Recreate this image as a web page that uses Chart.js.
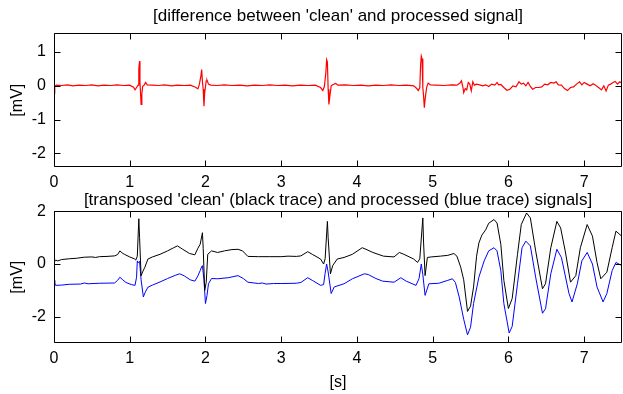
<!DOCTYPE html>
<html><head><meta charset="utf-8">
<script src="https://cdn.jsdelivr.net/npm/chart.js@4/dist/chart.umd.min.js"></script>
<style>
html,body{margin:0;padding:0;background:#fff;width:623px;height:394px;overflow:hidden}
canvas{position:absolute;left:0}
#c1{top:0}
#c2{top:190px}
</style></head><body>
<canvas id="c1" width="623" height="190"></canvas>
<canvas id="c2" width="623" height="204"></canvas>
<script>
// ---- tick labels ----
const xTicks = [0, 1, 2, 3, 4, 5, 6, 7];
const yTicksTop = [-2, -1, 0, 1];
const yTicksBottom = [-2, 0, 2];

// ---- difference signal (red) ----
const redT = [0.00,0.01,0.03,0.10,0.18,0.25,0.33,0.42,0.50,0.58,0.66,0.75,0.83,0.92,1.00,1.05,1.07,1.09,1.11,1.12,1.13,1.135,1.14,1.15,1.16,1.17,1.19,1.21,1.23,1.30,1.38,1.46,1.55,1.63,1.72,1.80,1.87,1.90,1.92,1.94,1.95,1.96,1.97,1.98,1.99,2.01,2.02,2.04,2.07,2.15,2.25,2.35,2.45,2.55,2.65,2.75,2.85,2.95,3.05,3.15,3.25,3.35,3.45,3.52,3.55,3.57,3.59,3.60,3.61,3.62,3.63,3.64,3.66,3.68,3.72,3.75,3.85,3.95,4.05,4.15,4.25,4.35,4.45,4.55,4.65,4.75,4.79,4.81,4.83,4.84,4.85,4.86,4.87,4.88,4.89,4.90,4.92,4.94,4.97,5.05,5.15,5.25,5.32,5.36,5.38,5.40,5.41,5.43,5.45,5.47,5.49,5.51,5.53,5.55,5.58,5.62,5.66,5.70,5.74,5.78,5.82,5.85,5.87,5.90,5.94,5.98,6.02,6.06,6.10,6.14,6.17,6.20,6.23,6.26,6.29,6.32,6.36,6.40,6.44,6.48,6.52,6.56,6.60,6.63,6.66,6.70,6.74,6.78,6.82,6.86,6.90,6.94,6.97,7.00,7.04,7.08,7.12,7.15,7.19,7.23,7.26,7.29,7.32,7.35,7.38,7.41,7.44,7.47,7.50];
const redV = [-0.22,-0.02,0.02,0.01,0.03,0.00,0.02,0.01,0.03,0.00,0.02,0.01,0.03,0.01,0.02,-0.04,-0.12,-0.05,0.02,0.50,0.73,0.10,-0.10,-0.55,-0.25,-0.02,0.02,0.10,0.03,0.02,0.01,0.03,0.00,0.02,0.01,0.02,-0.04,-0.09,0.05,0.30,0.48,0.12,-0.10,-0.60,-0.20,0.15,0.17,0.05,0.02,0.01,0.03,0.01,0.02,0.00,0.02,0.01,0.03,0.01,0.02,0.00,0.02,0.01,0.02,-0.05,-0.14,-0.02,0.40,0.77,0.70,-0.10,-0.55,-0.35,0.00,0.03,0.07,0.02,0.03,0.01,0.02,0.00,0.02,0.01,0.03,0.01,0.02,0.00,-0.08,-0.14,-0.05,0.60,0.88,0.80,-0.05,-0.30,-0.65,-0.40,-0.05,0.08,0.03,0.02,0.01,0.03,0.02,0.08,0.15,-0.05,-0.20,-0.08,-0.12,0.10,0.05,-0.15,0.12,0.02,0.05,0.03,0.00,0.03,-0.02,0.05,0.02,0.10,0.03,0.04,-0.05,-0.13,-0.10,0.00,-0.03,0.12,0.05,0.08,0.00,0.10,-0.02,-0.10,-0.05,-0.05,-0.03,0.05,0.03,0.10,0.08,0.12,0.03,0.02,-0.08,-0.14,-0.05,-0.03,0.05,0.12,0.03,0.10,0.05,0.00,0.06,0.02,-0.05,-0.12,0.00,-0.15,0.02,0.05,0.10,0.13,0.05,0.12,0.08];

// ---- transposed clean signal (black) ----
const blackT = [0.00,0.02,0.05,0.10,0.20,0.30,0.40,0.50,0.55,0.60,0.70,0.80,0.84,0.87,0.90,0.93,1.00,1.06,1.08,1.10,1.12,1.13,1.15,1.17,1.20,1.24,1.30,1.40,1.50,1.58,1.63,1.70,1.79,1.86,1.90,1.93,1.96,1.97,1.99,2.01,2.03,2.08,2.16,2.25,2.35,2.43,2.49,2.56,2.70,2.85,3.00,3.09,3.20,3.26,3.35,3.41,3.52,3.56,3.58,3.61,3.62,3.65,3.68,3.74,3.83,3.94,4.07,4.12,4.21,4.35,4.49,4.56,4.62,4.75,4.80,4.83,4.87,4.88,4.90,4.93,4.98,5.10,5.20,5.28,5.32,5.37,5.41,5.46,5.50,5.54,5.58,5.61,5.65,5.70,5.74,5.81,5.85,5.90,5.94,6.00,6.05,6.12,6.17,6.24,6.29,6.36,6.45,6.49,6.56,6.64,6.69,6.75,6.82,6.89,6.95,7.04,7.11,7.17,7.22,7.30,7.37,7.42,7.50];
const blackV = [0.05,0.15,0.12,0.17,0.20,0.22,0.26,0.27,0.25,0.28,0.29,0.31,0.36,0.50,0.42,0.37,0.27,0.20,0.15,0.30,1.72,1.00,-0.45,-0.30,-0.12,0.19,0.27,0.37,0.50,0.62,0.69,0.56,0.40,0.35,0.60,0.75,1.19,0.60,-1.00,-0.70,0.37,0.50,0.44,0.50,0.55,0.56,0.50,0.29,0.28,0.28,0.28,0.30,0.29,0.31,0.47,0.37,0.19,0.00,0.20,1.62,1.00,-0.37,-0.06,0.19,0.25,0.37,0.62,0.56,0.44,0.30,0.27,0.44,0.37,0.19,0.06,0.20,1.75,0.80,-0.44,0.25,0.27,0.30,0.33,0.40,0.30,-0.12,-0.60,-1.80,-1.60,-0.87,0.30,0.80,1.10,1.30,1.55,1.69,1.56,0.75,-0.62,-1.69,-1.31,0.37,1.50,1.94,1.75,0.50,-0.94,-0.75,0.62,1.62,1.37,0.50,-0.69,-0.44,0.62,1.50,1.06,0.06,-0.56,-0.31,0.62,1.25,1.05];

// ---- processed signal (blue) ----
const blueT = [0.00,0.01,0.02,0.10,0.20,0.35,0.40,0.45,0.60,0.80,0.84,0.87,0.90,0.95,1.02,1.07,1.09,1.10,1.11,1.13,1.15,1.18,1.20,1.24,1.30,1.40,1.50,1.60,1.66,1.72,1.80,1.86,1.90,1.93,1.95,1.96,1.98,2.00,2.02,2.04,2.08,2.16,2.30,2.43,2.50,2.56,2.70,2.75,2.80,2.90,3.00,3.20,3.26,3.35,3.41,3.52,3.56,3.58,3.60,3.62,3.66,3.70,3.83,3.94,4.10,4.15,4.25,4.34,4.49,4.58,4.65,4.78,4.82,4.85,4.87,4.90,4.95,5.08,5.20,5.26,5.30,5.35,5.41,5.46,5.50,5.54,5.61,5.68,5.74,5.81,5.85,5.90,5.94,6.01,6.05,6.12,6.18,6.23,6.29,6.36,6.45,6.49,6.56,6.64,6.70,6.80,6.84,6.91,6.97,7.04,7.11,7.17,7.25,7.30,7.37,7.42,7.50];
const blueV = [-0.62,-0.70,-0.81,-0.80,-0.77,-0.76,-0.72,-0.75,-0.73,-0.72,-0.62,-0.50,-0.58,-0.70,-0.78,-0.81,-0.50,0.12,0.05,0.10,-0.60,-1.25,-1.10,-0.88,-0.80,-0.68,-0.55,-0.43,-0.37,-0.45,-0.60,-0.65,-0.45,-0.25,-0.10,-0.06,-0.60,-1.50,-1.20,-0.75,-0.55,-0.56,-0.52,-0.44,-0.55,-0.69,-0.74,-0.72,-0.76,-0.74,-0.74,-0.73,-0.70,-0.52,-0.62,-0.81,-0.78,-0.35,0.00,-0.30,-1.12,-0.87,-0.75,-0.56,-0.37,-0.40,-0.55,-0.65,-0.69,-0.52,-0.65,-0.81,-0.55,0.00,-0.40,-1.19,-0.75,-0.73,-0.62,-0.56,-0.70,-1.25,-2.10,-2.69,-2.40,-1.50,-0.50,0.12,0.50,0.62,0.50,-0.25,-1.50,-2.62,-2.37,-0.75,0.62,0.87,0.69,-0.50,-1.87,-1.70,-0.37,0.56,0.25,-1.12,-1.44,-0.75,0.12,0.44,0.00,-0.87,-1.44,-1.12,-0.25,0.06,-0.06];

const FONT = "'Liberation Sans', Arial, sans-serif";
const FS = 16;   // tick / axis label size
const FT = 17;   // title size
function pairs(ts, vs) { return ts.map((t, i) => ({x: t, y: vs[i]})); }

const frame = {
  id: 'frame',
  afterDatasetsDraw(chart) {
    const {ctx, chartArea: a, scales: {x, y}} = chart;
    ctx.save();
    ctx.strokeStyle = '#000';
    ctx.lineWidth = 1;
    ctx.beginPath();
    const L = 6;
    const top = Math.round(a.top) + 0.5, bot = Math.round(a.bottom) - 0.5;
    const lft = Math.round(a.left) + 0.5, rgt = Math.round(a.right) - 0.5;
    x.ticks.forEach(t => {
      const px = Math.round(x.getPixelForValue(t.value)) + 0.5;
      ctx.moveTo(px, bot); ctx.lineTo(px, bot - L);
      ctx.moveTo(px, top); ctx.lineTo(px, top + L);
    });
    y.ticks.forEach(t => {
      const py = Math.round(y.getPixelForValue(t.value)) + 0.5;
      ctx.moveTo(lft, py); ctx.lineTo(lft + L, py);
      ctx.moveTo(rgt, py); ctx.lineTo(rgt - L, py);
    });
    ctx.rect(lft, top, rgt - lft, bot - top);
    ctx.stroke();
    ctx.restore();
  }
};

function makeChart(id, datasets, yMin, yMax, yTicks, title, titlePad, xAxisH, xTitle) {
  return new Chart(document.getElementById(id), {
    type: 'line',
    data: {datasets},
    options: {
      responsive: false,
      animation: false,
      events: [],
      layout: {padding: {left: 0, right: 1, top: 0, bottom: 0}, autoPadding: false},
      elements: {point: {radius: 0}, line: {borderWidth: 1, tension: 0}},
      plugins: {
        legend: {display: false},
        tooltip: {enabled: false},
        title: {display: true, fullSize: false, text: title, color: '#000', font: {family: FONT, size: FT, weight: 'normal'}, padding: titlePad}
      },
      scales: {
        x: {
          type: 'linear', min: 0, max: 7.5,
          grid: {display: false, drawTicks: false},
          border: {display: false},
          afterBuildTicks: s => { s.ticks = xTicks.map(v => ({value: v})); },
          afterFit: s => { s.height = xAxisH; },
          ticks: {color: '#000', padding: 6, maxRotation: 0, font: {family: FONT, size: FS}},
          title: xTitle ? {display: true, text: xTitle, color: '#000', font: {family: FONT, size: FS}, padding: {top: 0, bottom: 2}} : {display: false}
        },
        y: {
          type: 'linear', min: yMin, max: yMax,
          grid: {display: false, drawTicks: false},
          border: {display: false},
          afterBuildTicks: s => { s.ticks = yTicks.map(v => ({value: v})); },
          afterFit: s => { s.width = 54; },
          ticks: {color: '#000', padding: 8, font: {family: FONT, size: FS}},
          title: {display: true, text: '[mV]', color: '#000', font: {family: FONT, size: FS}, padding: {top: 8, bottom: 0}}
        }
      }
    },
    plugins: [frame]
  });
}

makeChart('c1',
  [{data: pairs(redT, redV), borderColor: '#ff0000', borderWidth: 1.2}],
  -2.4, 1.55, yTicksTop,
  "[difference between 'clean' and processed signal]", {top: 6, bottom: 7}, 23, null);

makeChart('c2',
  [{data: pairs(blackT, blackV), borderColor: '#000000'},
   {data: pairs(blueT, blueV), borderColor: '#0000ff'}],
  -3, 2, yTicksBottom,
  "[transposed 'clean' (black trace) and processed (blue trace) signals]", {top: 0, bottom: 1}, 51, '[s]');
</script>
</body></html>
